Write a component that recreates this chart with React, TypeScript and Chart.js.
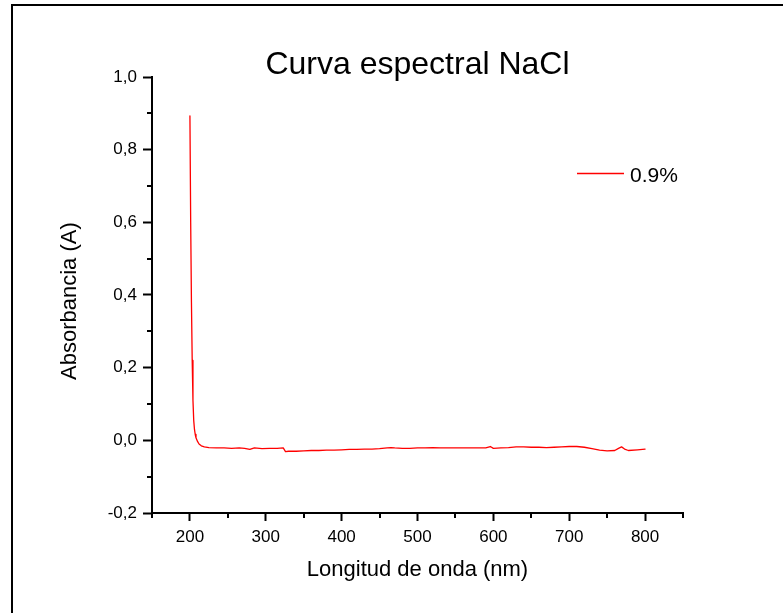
import React, { useEffect, useRef } from 'react';
import { Chart, registerables } from 'chart.js';

Chart.register(...registerables);

const TITLE = 'Curva espectral NaCl';
const X_LABEL = 'Longitud de onda (nm)';
const Y_LABEL = 'Absorbancia (A)';
const SERIES_LABEL = '0.9%';
const SERIES_COLOR = '#ff0000';

const wavelength = [
  200, 201, 202, 203, 204, 205, 206, 207, 208, 210, 212, 215, 219, 225,
  235, 245, 255, 265, 272, 279, 285, 295, 305, 315, 323, 326, 330, 340,
  350, 360, 370, 380, 390, 400, 410, 420, 430, 440, 450, 460, 465, 470,
  480, 490, 500, 510, 520, 530, 540, 550, 560, 570, 580, 590, 596, 600,
  610, 620, 630, 640, 650, 660, 670, 680, 690, 700, 710, 720, 730, 740,
  750, 760, 765, 769, 773, 778, 790, 800,
];

const absorbance = [
  0.893, 0.6, 0.38, 0.22, 0.11, 0.055, 0.03, 0.016, 0.007, -0.003, -0.01, -0.015, -0.018, -0.02,
  -0.021, -0.021, -0.022, -0.021, -0.022, -0.025, -0.021, -0.023, -0.022, -0.022, -0.021, -0.031, -0.03, -0.03,
  -0.029, -0.028, -0.028, -0.027, -0.027, -0.026, -0.025, -0.025, -0.024, -0.024, -0.023, -0.021, -0.02, -0.021,
  -0.022, -0.022, -0.021, -0.021, -0.02, -0.021, -0.021, -0.021, -0.021, -0.021, -0.021, -0.021, -0.017, -0.022,
  -0.021, -0.02, -0.018, -0.018, -0.019, -0.019, -0.02, -0.019, -0.018, -0.017, -0.017, -0.019, -0.023, -0.027,
  -0.029, -0.028, -0.022, -0.018, -0.024, -0.028, -0.026, -0.024,
];

const X_MIN = 150;
const X_MAX = 850;
const Y_MIN = -0.2;
const Y_MAX = 1.0;
const xMajorTicks = [200, 300, 400, 500, 600, 700, 800];
const xMinorTicks = [150, 250, 350, 450, 550, 650, 750, 850];
const yMajorTicks = [-0.2, 0, 0.2, 0.4, 0.6, 0.8, 1.0];
const yMinorTicks = [-0.1, 0.1, 0.3, 0.5, 0.7, 0.9];

const FONT = "'Liberation Sans', Arial, Helvetica, sans-serif";

const decorPlugin = {
  id: 'decor',
  beforeDraw(chart: any) {
    const ctx = chart.ctx;
    ctx.save();
    ctx.fillStyle = '#fff';
    ctx.fillRect(0, 0, chart.width, chart.height);
    ctx.strokeStyle = '#000';
    ctx.lineWidth = 2;
    ctx.beginPath();
    ctx.moveTo(12, chart.height);
    ctx.lineTo(12, 5);
    ctx.lineTo(chart.width, 5);
    ctx.stroke();
    ctx.restore();
  },
  afterDraw(chart: any) {
    const ctx = chart.ctx;
    const area = chart.chartArea;
    const xs = chart.scales.x;
    const ys = chart.scales.y;
    ctx.save();
    ctx.strokeStyle = '#000';
    ctx.lineWidth = 2;
    ctx.beginPath();
    xMinorTicks.forEach((v) => {
      const px = Math.round(xs.getPixelForValue(v));
      ctx.moveTo(px, area.bottom);
      ctx.lineTo(px, area.bottom + 5);
    });
    yMinorTicks.forEach((v) => {
      const py = Math.round(ys.getPixelForValue(v));
      ctx.moveTo(area.left - 5, py);
      ctx.lineTo(area.left, py);
    });
    ctx.stroke();

    // legend
    const ds = chart.data.datasets[0];
    const ly = 173.5;
    ctx.strokeStyle = ds.borderColor;
    ctx.lineWidth = 1.3;
    ctx.beginPath();
    ctx.moveTo(577, ly);
    ctx.lineTo(624, ly);
    ctx.stroke();
    ctx.fillStyle = '#000';
    ctx.font = `21px ${FONT}`;
    ctx.textAlign = 'left';
    ctx.textBaseline = 'alphabetic';
    ctx.fillText(ds.label, 630, 181.5);
    ctx.restore();
  },
};

export default function App() {
  const canvasRef = useRef<HTMLCanvasElement | null>(null);

  useEffect(() => {
    const canvas = canvasRef.current;
    if (!canvas) return;
    Chart.defaults.font.family = FONT;
    const chart = new Chart(canvas, {
      type: 'line',
      data: {
        datasets: [
          {
            label: SERIES_LABEL,
            data: wavelength.map((x, i) => ({ x, y: absorbance[i] })),
            borderColor: SERIES_COLOR,
            borderWidth: 1.3,
            borderJoinStyle: 'round',
            borderCapStyle: 'round',
            pointRadius: 0,
            tension: 0,
            fill: false,
          },
        ],
      },
      options: {
        responsive: false,
        animation: false,
        devicePixelRatio: 1,
        layout: { padding: { left: 0, right: 100, top: 0, bottom: 0 } },
        plugins: {
          legend: { display: false },
          tooltip: { enabled: false },
          title: {
            display: true,
            text: TITLE,
            color: '#000',
            fullSize: false,
            font: { size: 32, weight: 'normal', lineHeight: 0.5 },
            padding: { top: 57, bottom: 4 },
          },
        },
        scales: {
          x: {
            type: 'linear',
            min: X_MIN,
            max: X_MAX,
            afterBuildTicks: (s: any) => {
              s.ticks = xMajorTicks.map((v) => ({ value: v }));
            },
            afterFit: (s: any) => {
              s.height = 100;
            },
            grid: {
              display: true,
              drawOnChartArea: false,
              drawTicks: true,
              tickLength: 8,
              tickWidth: 2,
              tickColor: '#000',
            },
            border: { display: true, color: '#000', width: 2 },
            ticks: {
              color: '#000',
              font: { size: 17 },
              padding: 6,
              maxRotation: 0,
              autoSkip: false,
              callback: (v: any) => String(v),
            },
            title: {
              display: true,
              text: X_LABEL,
              color: '#000',
              font: { size: 22 },
              padding: { top: 0, bottom: 30 },
            },
          },
          y: {
            type: 'linear',
            min: Y_MIN,
            max: Y_MAX,
            afterBuildTicks: (s: any) => {
              s.ticks = yMajorTicks.map((v) => ({ value: v }));
            },
            afterFit: (s: any) => {
              s.width = 152;
            },
            grid: {
              display: true,
              drawOnChartArea: false,
              drawTicks: true,
              tickLength: 9,
              tickWidth: 2,
              tickColor: '#000',
            },
            border: { display: true, color: '#000', width: 2 },
            ticks: {
              color: '#000',
              font: { size: 17 },
              padding: 6,
              autoSkip: false,
              callback: (v: any) => Number(v).toFixed(1).replace('.', ','),
            },
            title: {
              display: true,
              text: Y_LABEL + '  ',
              color: '#000',
              font: { size: 22 },
              padding: { top: 57, bottom: 0 },
            },
          },
        },
      },
      plugins: [decorPlugin],
    } as any);
    return () => chart.destroy();
  }, []);

  return (
    <div style={{ position: 'fixed', left: 0, top: 0, width: 783, height: 613, background: '#fff' }}>
      <canvas ref={canvasRef} width={783} height={613} style={{ display: 'block' }} />
    </div>
  );
}
